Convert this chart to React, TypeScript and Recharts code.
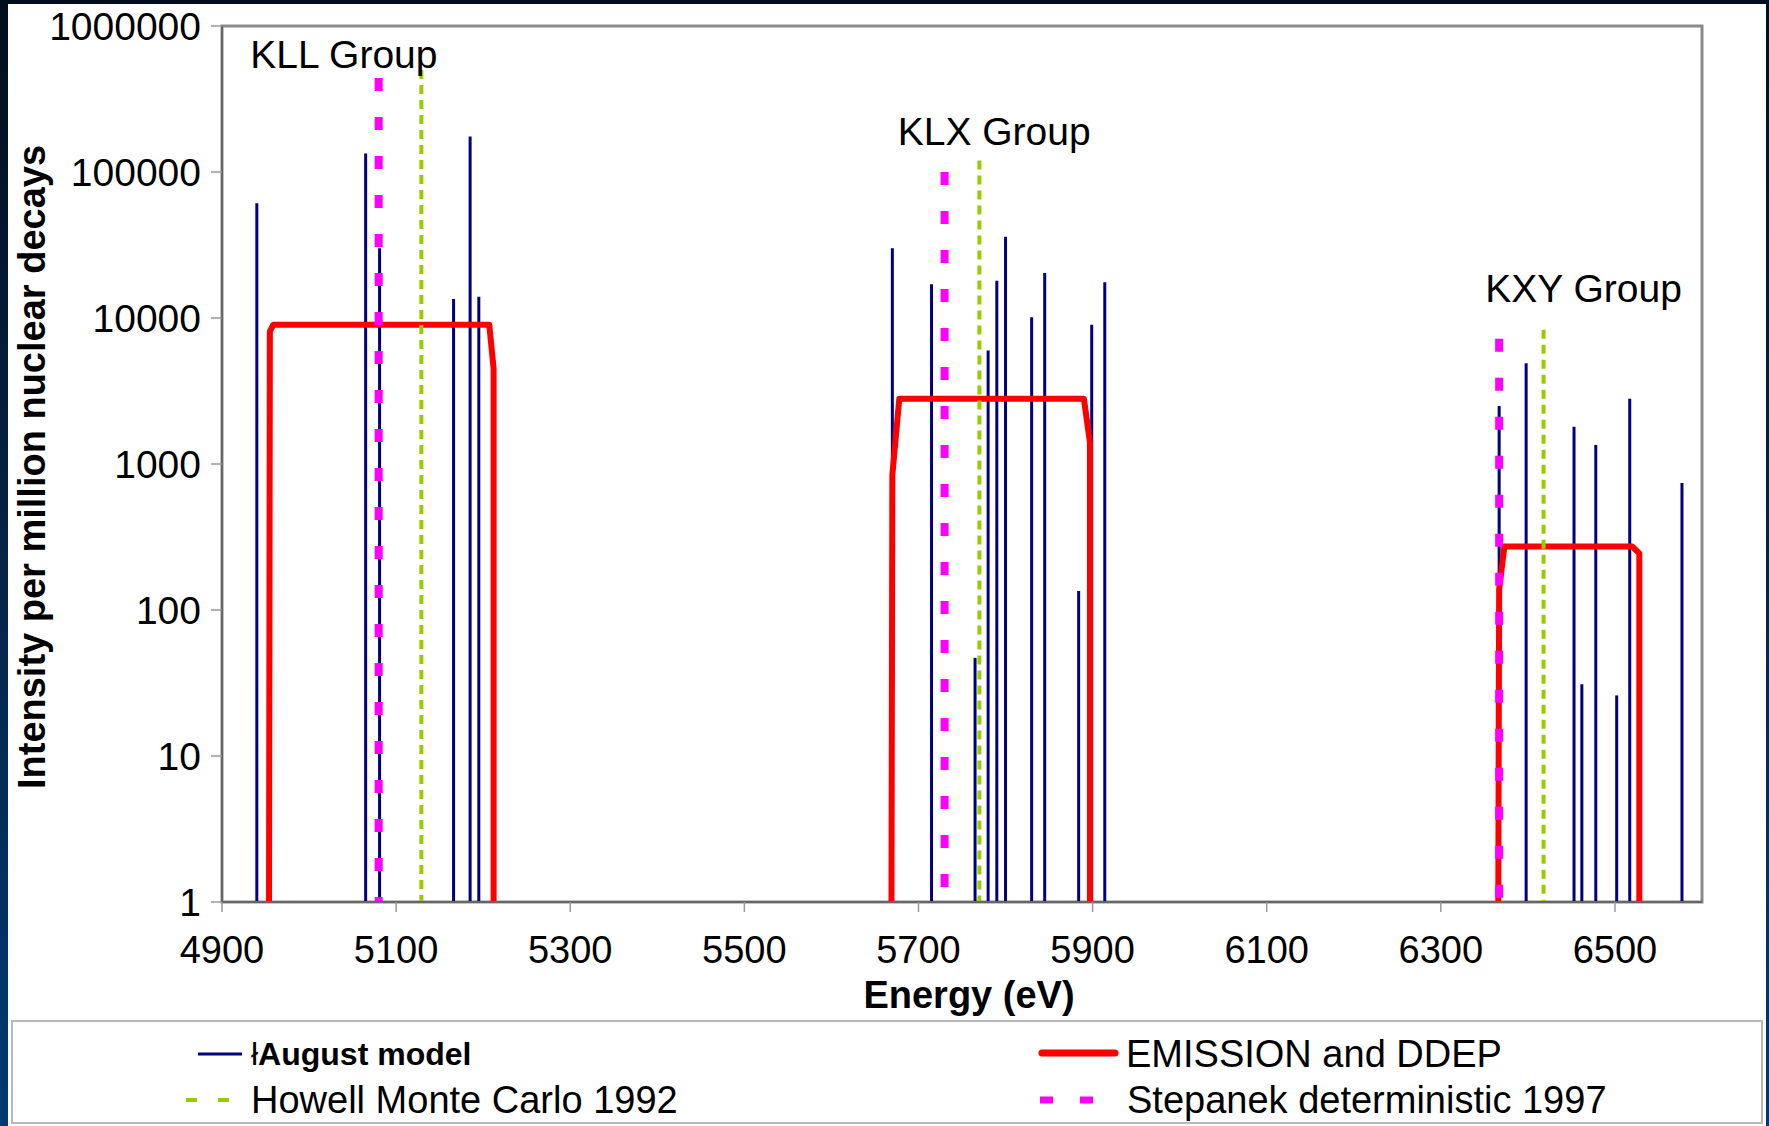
import { LineChart, Line, XAxis, YAxis, ReferenceArea, ReferenceDot } from "recharts";

// August model spikes (eV, intensity per million decays)
const augerEnergy = [
  4940, 5065, 5081, 5166, 5185, 5195,
  5670, 5715, 5765, 5780, 5790, 5800, 5830, 5845, 5884, 5899, 5914,
  6367, 6398, 6453, 6462, 6478, 6502, 6517, 6577,
];
const augerIntensity = [
  61000, 134000, 30000, 13500, 175000, 14000,
  30000, 17000, 47, 6000, 18000, 36000, 10100, 20300, 135, 9000, 17600,
  2500, 4900, 1800, 31, 1350, 26, 2800, 740,
];

// EMISSION and DDEP blocks
const emissionKllEnergy = [4954, 4955, 4959, 5207, 5212, 5212];
const emissionKllIntensity = [1, 8100, 9000, 9000, 4500, 1];
const emissionKlxEnergy = [5669, 5670, 5678, 5890, 5897, 5897];
const emissionKlxIntensity = [1, 840, 2800, 2800, 1400, 1];
const emissionKxyEnergy = [6366, 6367, 6373, 6520, 6528, 6528];
const emissionKxyIntensity = [1, 138, 272, 272, 244, 1];

const howellEnergy = [5129, 5770, 6418];
const howellIntensity = [500000, 120000, 8300];
const stepanekEnergy = [5080, 5730, 6367];
const stepanekIntensity = [440000, 100000, 7200];

const groupLabels = ["KLL Group", "KLX Group", "KXY Group"];
const groupEnergy = [5040, 5787, 6464];
const groupIntensity = [641000, 191000, 15900];

const xTicks = [4900, 5100, 5300, 5500, 5700, 5900, 6100, 6300, 6500];
const yTicks = [1, 10, 100, 1000, 10000, 100000, 1000000];

const FONT = "'Liberation Sans', Arial, sans-serif";

// vertical drop line drawn from the top down, so dashes start at the peak
const drop = (e: number, v: number) => [
  { x: e, y: v },
  { x: e, y: 1 },
];
const zipPts = (xs: number[], ys: number[]) => xs.map((x, i) => ({ x, y: ys[i] }));

const emissionBlocks = [
  zipPts(emissionKllEnergy, emissionKllIntensity),
  zipPts(emissionKlxEnergy, emissionKlxIntensity),
  zipPts(emissionKxyEnergy, emissionKxyIntensity),
];

function YTitle({ viewBox }: any) {
  const cx = 32;
  const cy = viewBox.y + viewBox.height / 2 + 3;
  return (
    <text
      x={cx}
      y={cy}
      transform={`rotate(-90, ${cx}, ${cy})`}
      textAnchor="middle"
      dominantBaseline="central"
      fontFamily={FONT}
      fontWeight="bold"
      fontSize={38}
      fill="#000"
    >
      Intensity per million nuclear decays
    </text>
  );
}

function ChartLegend() {
  const txt = { fontFamily: FONT, fill: "#000" };
  return (
    <svg
      width={1769}
      height={1126}
      style={{ position: "absolute", left: 0, top: 0, pointerEvents: "none" }}
    >
      <rect x={12} y={1021} width={1750} height={102} fill="#fff" stroke="#b8b8b8" strokeWidth={2} />
      <line x1={198} y1={1054} x2={242} y2={1054} stroke="#000080" strokeWidth={3} />
      <text x={251} y={1054} dominantBaseline="central" fontSize={32} {...txt}>
        <tspan fontWeight="normal">ł</tspan>
        <tspan fontWeight="bold">August model</tspan>
      </text>
      <line x1={186} y1={1100} x2={240} y2={1100} stroke="#99cc00" strokeWidth={4} strokeDasharray="11 21" />
      <text x={251} y={1100} dominantBaseline="central" fontSize={38} {...txt}>
        Howell Monte Carlo 1992
      </text>
      <line x1={1042} y1={1053} x2={1115} y2={1053} stroke="#ff0000" strokeWidth={7} strokeLinecap="round" />
      <text x={1126} y={1054} dominantBaseline="central" fontSize={38} {...txt}>
        EMISSION and DDEP
      </text>
      <line x1={1040} y1={1100} x2={1117} y2={1100} stroke="#ff00ff" strokeWidth={7} strokeDasharray="13 27" />
      <text x={1127} y={1100} dominantBaseline="central" fontSize={38} {...txt}>
        Stepanek deterministic 1997
      </text>
    </svg>
  );
}

export default function App() {
  return (
    <div
      style={{
        position: "fixed",
        left: 0,
        top: 0,
        width: 1769,
        height: 1126,
        overflow: "hidden",
        background: "linear-gradient(to bottom, #020e1d 0%, #05264a 55%, #003a72 100%)",
      }}
    >
      <div style={{ position: "absolute", left: 8, top: 4, width: 1758, height: 1122, background: "#fff" }} />
      <LineChart
        width={1769}
        height={1126}
        margin={{ top: 26, right: 67, bottom: 105, left: 22 }}
        style={{ position: "absolute", left: 0, top: 0 }}
      >
        <XAxis
          type="number"
          dataKey="x"
          domain={[4900, 6600]}
          ticks={xTicks}
          allowDataOverflow
          height={119}
          tickSize={10}
          tickMargin={24}
          stroke="#666"
          strokeWidth={2}
          tickLine={{ stroke: "#999", strokeWidth: 1.5 }}
          tick={{ fontSize: 38, fill: "#000", fontFamily: FONT }}
          label={{
            value: "Energy (eV)",
            position: "insideBottom",
            offset: 13,
            dx: 7,
            fontSize: 38,
            fontWeight: "bold",
            fill: "#000",
            fontFamily: FONT,
          }}
        />
        <YAxis
          type="number"
          dataKey="y"
          scale="log"
          domain={[1, 1000000]}
          ticks={yTicks}
          allowDataOverflow
          width={200}
          tickSize={11}
          tickMargin={10}
          stroke="#666"
          strokeWidth={2}
          tickLine={{ stroke: "#999", strokeWidth: 1.5 }}
          tick={{ fontSize: 39, fill: "#000", fontFamily: FONT }}
          label={<YTitle />}
        />
        <ReferenceArea
          x1={4900}
          x2={6600}
          y1={1}
          y2={1000000}
          fill="none"
          stroke="#8a8a8a"
          strokeWidth={3}
          fillOpacity={0}
        />
        {augerEnergy.map((e, i) => (
          <Line
            key={`a${i}`}
            data={drop(e, augerIntensity[i])}
            dataKey="y"
            stroke="#000080"
            strokeWidth={3}
            dot={false}
            isAnimationActive={false}
          />
        ))}
        {emissionBlocks.map((pts, i) => (
          <Line
            key={`e${i}`}
            data={pts}
            dataKey="y"
            stroke="#ff0000"
            strokeWidth={6}
            strokeLinejoin="round"
            dot={false}
            isAnimationActive={false}
          />
        ))}
        {howellEnergy.map((e, i) => (
          <Line
            key={`h${i}`}
            data={drop(e, howellIntensity[i])}
            dataKey="y"
            stroke="#99cc00"
            strokeWidth={4}
            strokeDasharray="9 6"
            dot={false}
            isAnimationActive={false}
          />
        ))}
        {stepanekEnergy.map((e, i) => (
          <Line
            key={`s${i}`}
            data={drop(e, stepanekIntensity[i])}
            dataKey="y"
            stroke="#ff00ff"
            strokeWidth={8}
            strokeDasharray="13 26"
            dot={false}
            isAnimationActive={false}
          />
        ))}
        {groupLabels.map((g, i) => (
          <ReferenceDot
            key={g}
            x={groupEnergy[i]}
            y={groupIntensity[i]}
            r={1}
            fill="none"
            stroke="none"
            ifOverflow="visible"
            label={{ value: g, position: "center", fontSize: 39, fill: "#000", fontFamily: FONT }}
          />
        ))}
      </LineChart>
      <ChartLegend />
    </div>
  );
}
